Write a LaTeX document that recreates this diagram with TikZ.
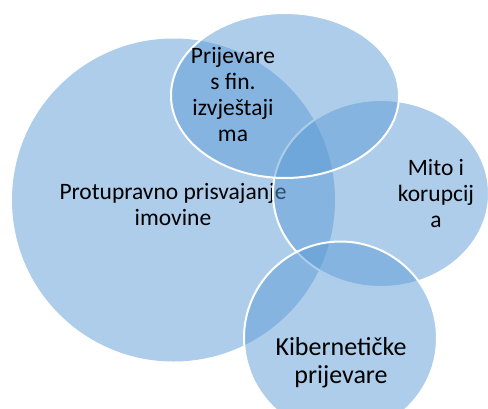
\documentclass[tikz,border=0pt]{standalone}
\usepackage{fontspec}
\setmainfont{Carlito}
\definecolor{venn}{HTML}{5B9BD5}
\begin{document}
\begin{tikzpicture}[x=1pt,y=-1pt,
  blob/.style={fill=venn, fill opacity=0.5},
  blobline/.style={blob, draw=white, line width=2pt},
  lbl/.style={align=center, text=black, inner sep=0pt, anchor=base, font=\fontsize{23.5}{26}\selectfont},
  lblbig/.style={lbl, font=\fontsize{26}{28}\selectfont}]
\useasboundingbox (0,0) rectangle (488,408);
% big circle
\coordinate (cbig) at (173.5,200);
\fill[blob] (cbig) circle [radius=161.5pt];
\node[lbl] (tbig) at (173,225) {Protupravno prisvajanje\\imovine};
% right ellipse
\coordinate (cright) at (381,193.5);
\path[blobline] (cright) ellipse [x radius=108pt, y radius=93.5pt];
\node[lbl] (tright) at (436,227) {Mito i\\korupcij\\a};
% top ellipse
\coordinate (ctop) at (285,95.5);
\path[blobline] (ctop) ellipse [x radius=114pt, y radius=82.5pt];
\node[lbl] (ttop) at (233,141.5) {Prijevare\\s fin.\\izvještaji\\ma};
% bottom circle
\coordinate (cbot) at (340.5,338);
\path[blobline] (cbot) circle [radius=96.5pt];
\node[lblbig] (tbot) at (341,383) {Kibernetičke\\prijevare};
\end{tikzpicture}
\end{document}
